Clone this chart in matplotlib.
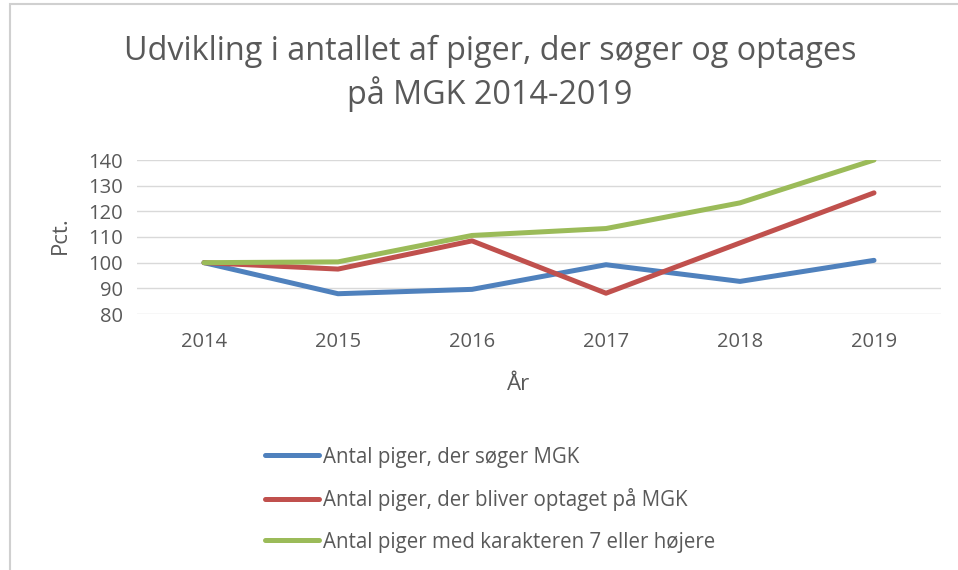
import matplotlib.pyplot as plt
from matplotlib.patches import Rectangle

years = ["2014", "2015", "2016", "2017", "2018", "2019"]
soeger = [100, 87.9, 89.6, 99.2, 92.7, 100.9]
optaget = [100, 97.5, 108.5, 88.1, 107.7, 127.2]
karakter7 = [100, 100.3, 110.6, 113.3, 123.3, 140]
labels = ["Antal piger, der søger MGK",
          "Antal piger, der bliver optaget på MGK",
          "Antal piger med karakteren 7 eller højere"]
colors = ["#4f81bd", "#c0504d", "#9bbb59"]

plt.rcParams['font.family'] = ['Open Sans', 'DejaVu Sans']
txt = "#595959"

fig = plt.figure(figsize=(9.58, 5.7), dpi=100)
W, H = 958, 570

# chart frame
fig.patches.append(Rectangle((10 / W, -0.1), 1.2, (H - 4) / H + 0.1,
                             transform=fig.transFigure, fill=False,
                             edgecolor="#d0d0d0", lw=1.5))

ax = fig.add_axes([137 / W, 1 - 314 / H, 804 / W, 154 / H])
x = range(len(years))
for vals, lab, c in zip([soeger, optaget, karakter7], labels, colors):
    ax.plot(x, vals, color=c, lw=3.6, solid_capstyle="round", label=lab)

ax.set_xlim(-0.5, 5.5)
ax.set_ylim(80, 140)
ax.set_yticks(range(80, 141, 10))
ax.set_xticks(list(x))
ax.set_xticklabels(years)
ax.grid(axis="y", color="#d9d9d9", lw=1)
ax.set_axisbelow(True)
for s in ax.spines.values():
    s.set_visible(False)
ax.tick_params(length=0, labelsize=14.5, labelcolor=txt)
ax.tick_params(axis="x", pad=13)
ax.tick_params(axis="y", pad=10)

fig.text(60 / W, 1 - 235 / H, "Pct.", rotation=90, ha="center", va="center",
         fontsize=16, color=txt)
fig.text(519 / W, 1 - 385 / H, "År", ha="center", va="center",
         fontsize=16, color=txt)
fig.text(490 / W, 1 - 73 / H,
         "Udvikling i antallet af piger, der søger og optages\npå MGK 2014-2019",
         ha="center", va="center", fontsize=23.3, color=txt, linespacing=1.3)

fig.legend(loc="upper left", bbox_to_anchor=(246 / W, 1 - 428 / H),
           frameon=False, fontsize=14.8, labelcolor=txt, handlelength=2.65,
           handletextpad=0.2, labelspacing=1.0)

fig.savefig("out.png", dpi=100)
